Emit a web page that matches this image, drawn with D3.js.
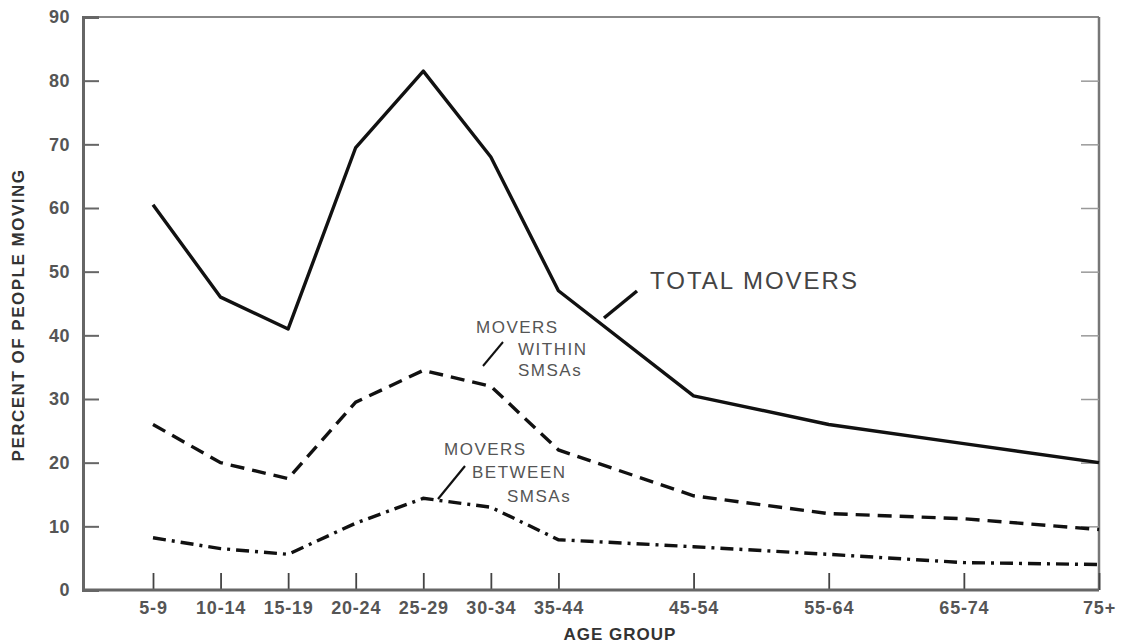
<!DOCTYPE html>
<html><head><meta charset="utf-8">
<script src="https://cdn.jsdelivr.net/npm/d3@7"></script>
<style>body{margin:0;background:#fff}svg{display:block}</style>
</head><body>
<svg id="c" width="1122" height="643"></svg>
<script>
const ageGroups = ["5-9","10-14","15-19","20-24","25-29","30-34","35-44","45-54","55-64","65-74","75+"];
const ageStart = [5,10,15,20,25,30,35,45,55,65,75];
const totalMovers = [60.5,46,41,69.5,81.5,68,47,30.5,26,23,20];
const withinSMSAs = [26,20,17.5,29.5,34.5,32,22,14.8,12,11.2,9.5];
const betweenSMSAs = [8.2,6.5,5.6,10.5,14.4,13,7.9,6.8,5.6,4.3,4];
const yTicks = [0,10,20,30,40,50,60,70,80,90];

const svg = d3.select("#c");
const L = 83, R = 1099, T = 17, B = 590;
const x = d3.scaleLinear().domain([5,75]).range([153,1099]);
const y = d3.scaleLinear().domain([0,90]).range([B,T]);
const font = "'Liberation Sans', Arial, sans-serif";
const axisCol = "#666";

// frame
svg.append("line").attr("x1",L).attr("x2",R).attr("y1",T).attr("y2",T).attr("stroke","#888").attr("stroke-width",2);
svg.append("line").attr("x1",R).attr("x2",R).attr("y1",T).attr("y2",B).attr("stroke","#777").attr("stroke-width",2.5);

// left axis
const yAxis = d3.axisLeft(y).tickValues(yTicks).tickSize(-16).tickPadding(13).tickFormat(d3.format("d"));
const gy = svg.append("g").attr("transform",`translate(${L},0)`).call(yAxis);
gy.select(".domain").attr("stroke",axisCol).attr("stroke-width",3);
gy.selectAll(".tick line").attr("stroke",axisCol).attr("stroke-width",2);
gy.selectAll(".tick").filter(d=>d===0||d===90).select("line").remove();
gy.selectAll(".tick text").attr("font-family",font).attr("font-size",18).attr("font-weight","bold")
  .attr("fill","#555").attr("letter-spacing","0.5px");

// right axis ticks (inward)
const yAxisR = d3.axisRight(y).tickValues(yTicks.filter(d=>d>0&&d<90)).tickSize(-18).tickFormat("");
const gyr = svg.append("g").attr("transform",`translate(${R},0)`).call(yAxisR);
gyr.select(".domain").remove();
gyr.selectAll(".tick line").attr("stroke","#999").attr("stroke-width",1.5);

// bottom axis
const xAxis = d3.axisBottom(x).tickValues(ageStart).tickSize(-17).tickPadding(11).tickFormat((d,i)=>ageGroups[i]);
const gx = svg.append("g").attr("transform",`translate(0,${B})`).call(xAxis);
gx.select(".domain").remove();
svg.append("line").attr("x1",L).attr("x2",R).attr("y1",B).attr("y2",B).attr("stroke",axisCol).attr("stroke-width",3);
gx.selectAll(".tick line").attr("stroke","#444").attr("stroke-width",1.8);
gx.selectAll(".tick text").attr("font-family",font).attr("font-size",18).attr("font-weight","bold")
  .attr("fill","#555").attr("letter-spacing","0.8px");

// axis titles
svg.append("text").attr("transform","translate(24,315) rotate(-90)").attr("text-anchor","middle")
  .attr("font-family",font).attr("font-weight","bold").attr("font-size",17).attr("letter-spacing","1.5px")
  .attr("fill","#333").text("PERCENT OF PEOPLE MOVING");
svg.append("text").attr("x",620).attr("y",640).attr("text-anchor","middle")
  .attr("font-family",font).attr("font-weight","bold").attr("font-size",17).attr("letter-spacing","1px")
  .attr("fill","#333").text("AGE GROUP");

// lines
const line = vals => d3.line().x((d,i)=>x(ageStart[i])).y(d=>y(d))(vals);
svg.append("path").attr("d",line(totalMovers)).attr("fill","none").attr("stroke","#111").attr("stroke-width",3.4).attr("stroke-linejoin","round");
svg.append("path").attr("d",line(withinSMSAs)).attr("fill","none").attr("stroke","#111").attr("stroke-width",3.4).attr("stroke-dasharray","14,8");
svg.append("path").attr("d",line(betweenSMSAs)).attr("fill","none").attr("stroke","#111").attr("stroke-width",3.4).attr("stroke-dasharray","13,6,3,6");

// annotations
svg.append("text").attr("x",650).attr("y",289).attr("font-family",font).attr("font-size",24)
  .attr("letter-spacing","2px").attr("fill","#444").text("TOTAL MOVERS");
svg.append("line").attr("x1",604).attr("y1",318).attr("x2",637).attr("y2",291).attr("stroke","#111").attr("stroke-width",3.5);

const ann = svg.append("g").attr("font-family",font).attr("font-size",17).attr("letter-spacing","1.5px").attr("fill","#555");
ann.append("text").attr("x",476).attr("y",333).text("MOVERS");
ann.append("text").attr("x",518).attr("y",355).text("WITHIN");
ann.append("text").attr("x",518).attr("y",376).text("SMSAs");
svg.append("line").attr("x1",483).attr("y1",366).attr("x2",503).attr("y2",342).attr("stroke","#111").attr("stroke-width",2);

ann.append("text").attr("x",444).attr("y",455).text("MOVERS");
ann.append("text").attr("x",472).attr("y",478).text("BETWEEN");
ann.append("text").attr("x",507).attr("y",502).text("SMSAs");
svg.append("line").attr("x1",438).attr("y1",499).attr("x2",465).attr("y2",466).attr("stroke","#111").attr("stroke-width",2.2);
</script>
</body></html>
